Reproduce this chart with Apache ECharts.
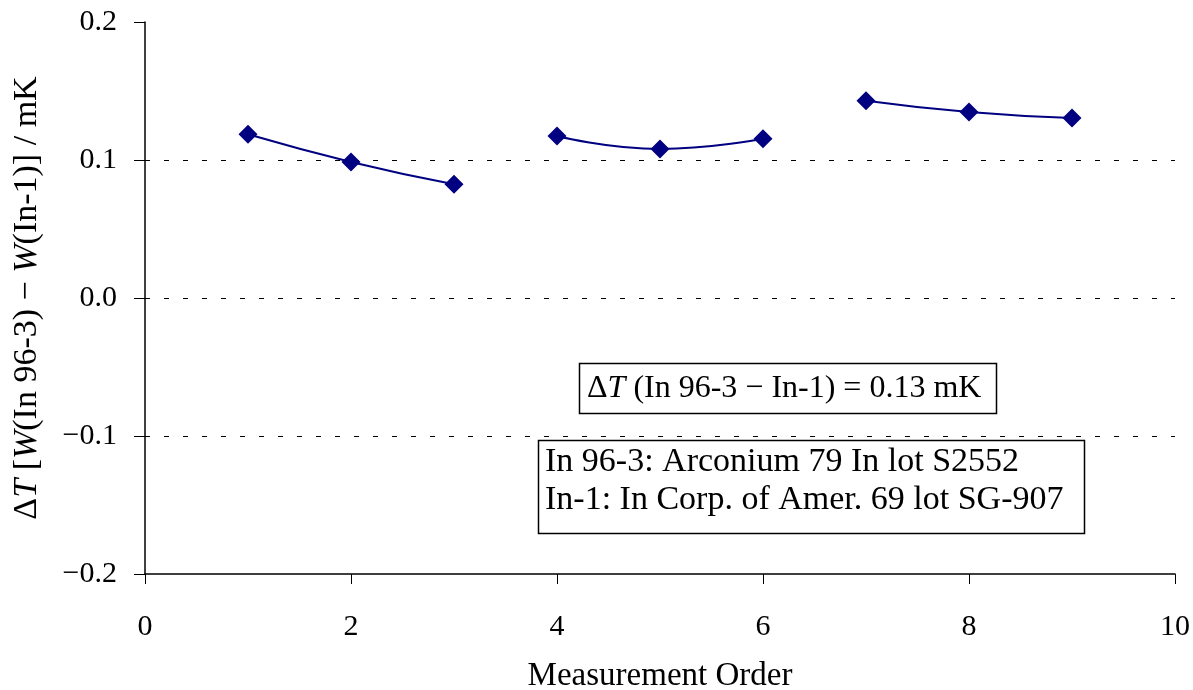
<!DOCTYPE html>
<html lang="en">
  <head>
    <meta charset="UTF-8" />
    <title>In 96-3 vs In-1</title>
    <style>
      html,
      body {
        margin: 0;
        padding: 0;
        background: #fff;
      }
      #main {
        width: 1193px;
        height: 690px;
      }
    </style>
  </head>
  <body>
    <div id="main"></div>
    <script src="https://cdn.jsdelivr.net/npm/echarts@6/dist/echarts.min.js"></script>
    <script>
      const measurementOrder = [1, 2, 3, 4, 5, 6, 7, 8, 9];
      const deltaT = [0.1186, 0.0986, 0.0824, 0.1174, 0.108, 0.1154, 0.143, 0.1348, 0.1304];
      // each run of three measurements is joined by its own curve
      const runSizes = [3, 3, 3];
      const yTicks = [-0.2, -0.1, 0.0, 0.1, 0.2];
      const xTicks = [0, 2, 4, 6, 8, 10];

      const serif = "'Liberation Serif', 'DejaVu Serif', serif";
      const navy = "#000080";

      let series = [];
      let start = 0;
      runSizes.forEach((n) => {
        let pts = [];
        for (let i = start; i < start + n; i++) {
          pts.push([measurementOrder[i], deltaT[i]]);
        }
        start += n;
        series.push({
          type: "line",
          data: pts,
          smooth: 0.5,
          symbol: "diamond",
          symbolSize: 19,
          itemStyle: { color: navy },
          lineStyle: { color: navy, width: 2 },
          silent: true,
        });
      });

      let mchart = echarts.init(document.getElementById("main"));
      let option = {
        animation: false,
        textStyle: { fontFamily: serif },
        grid: {
          left: 145,
          right: 18,
          top: 22,
          bottom: 116,
          outerBoundsMode: "none",
          containLabel: false,
        },
        xAxis: {
          type: "value",
          min: xTicks[0],
          max: xTicks[xTicks.length - 1],
          interval: 2,
          name: "Measurement Order",
          nameLocation: "middle",
          nameGap: 86,
          nameTextStyle: { fontFamily: serif, fontSize: 33, color: "#000" },
          axisLine: { show: true, onZero: false, lineStyle: { color: "#000", width: 1.5 } },
          axisTick: { show: true, inside: false, length: 10, lineStyle: { color: "#000" } },
          axisLabel: { fontFamily: serif, fontSize: 30, color: "#000", margin: 38 },
          splitLine: { show: false },
        },
        yAxis: {
          type: "value",
          min: yTicks[0],
          max: yTicks[yTicks.length - 1],
          interval: 0.1,
          name: "Δ{i|T} [{i|W}(In 96-3) − {i|W}(In-1)] / mK",
          nameLocation: "middle",
          nameGap: 101,
          nameTextStyle: {
            fontFamily: serif,
            fontSize: 34,
            color: "#000",
            rich: {
              i: { fontFamily: serif, fontSize: 34, color: "#000", fontStyle: "italic" },
            },
          },
          axisLine: { show: true, onZero: false, lineStyle: { color: "#000", width: 1.5 } },
          axisTick: { show: true, inside: false, length: 11, lineStyle: { color: "#000" } },
          axisLabel: {
            fontFamily: serif,
            fontSize: 30,
            color: "#000",
            margin: 28,
            formatter: (v) => {
              let s = Math.abs(v).toFixed(1);
              return v < -1e-9 ? "\u2212" + s : s;
            },
          },
          splitLine: {
            show: true,
            showMinLine: false,
            showMaxLine: false,
            lineStyle: { color: "#000", width: 1, type: [5, 14] },
          },
        },
        graphic: [
          {
            type: "rect",
            shape: { x: 579.5, y: 363.5, width: 417, height: 50 },
            style: { fill: "#fff", stroke: "#000", lineWidth: 1.5 },
            z: 100,
          },
          {
            type: "text",
            x: 587,
            y: 389,
            style: {
              text: "Δ{i|T} (In 96-3 − In-1) = 0.13 mK",
              font: "32px " + serif,
              fill: "#000",
              verticalAlign: "middle",
              rich: {
                i: { fontFamily: serif, fontSize: 32, fontStyle: "italic", fill: "#000" },
              },
            },
            z: 101,
          },
          {
            type: "rect",
            shape: { x: 538.5, y: 440.5, width: 546, height: 93 },
            style: { fill: "#fff", stroke: "#000", lineWidth: 1.5 },
            z: 100,
          },
          {
            type: "text",
            x: 545,
            y: 462,
            style: {
              text: "In 96-3: Arconium 79 In lot S2552",
              font: "34px " + serif,
              fill: "#000",
              verticalAlign: "middle",
            },
            z: 101,
          },
          {
            type: "text",
            x: 545,
            y: 500,
            style: {
              text: "In-1: In Corp. of Amer. 69 lot SG-907",
              font: "34px " + serif,
              fill: "#000",
              verticalAlign: "middle",
            },
            z: 101,
          },
        ],
        series: series,
      };
      mchart.setOption(option);
    </script>
  </body>
</html>
